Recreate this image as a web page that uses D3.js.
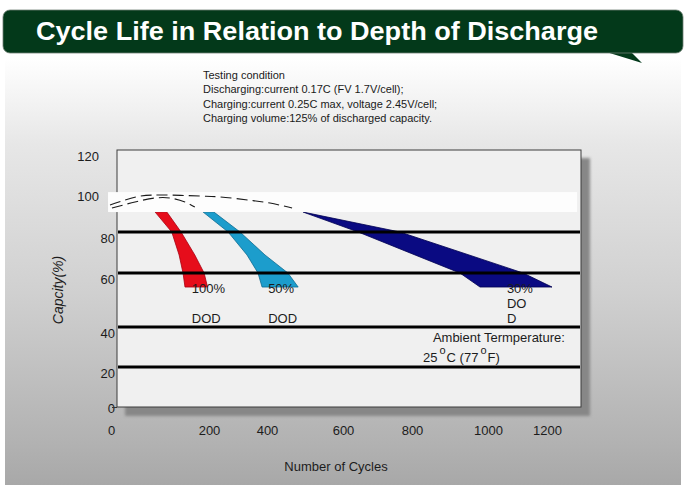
<!DOCTYPE html>
<html><head><meta charset="utf-8">
<script src="https://cdn.jsdelivr.net/npm/d3@7"></script>
<style>
html,body{margin:0;padding:0;background:#fff;}
svg{display:block;font-family:"Liberation Sans",Arial,Helvetica,sans-serif;}
</style>
</head><body>
<svg id="chart" width="686" height="498"></svg>
<script>
// ---------- data ----------
const titleText = "Cycle Life in Relation to Depth of Discharge";
const conditionLines = [
  "Testing condition",
  "Discharging:current 0.17C (FV 1.7V/cell);",
  "Charging:current 0.25C max, voltage 2.45V/cell;",
  "Charging volume:125% of discharged capacity."
];
const xTicks = [0, 200, 400, 600, 800, 1000, 1200];
const yTicks = [0, 20, 40, 60, 80, 100, 120];
const gridValues = [80, 60, 40, 20];
const xTitle = "Number of Cycles";
const yTitle = "Capcity(%)";

// capacity bands [cycles, capacity %] (outline, clockwise)
const dod100 = [[90,89.5],[114,89.5],[143,80],[171,68.8],[190,60],[197,54.8],[151,54.8],[147,60],[139,68.8],[124,80]];
const dod50  = [[188,89.5],[217,89.5],[307,80],[393,68.8],[455,60],[482,54.8],[383,54.8],[369,60],[331,68.8],[266,80]];
const dod30  = [[495,89.5],[765,80],[950,68.8],[1119,60],[1217,54.8],[979,54.8],[926,60],[808,68.8],[644,80]];
const bandColors = ["#e60d1b", "#1c9dcc", "#0a0a82"];
const bandStrokes = ["#a80010", "#0e6c92", "#000050"];

// initial capacity envelope (dashed)
const envelopeUpper = [[-2,92.9],[59,97.1],[104,97.6],[182,97.1],[238,96.7],[337,95.2],[408,93.8],[466,91.4]];
const envelopeLower = [[2,91.4],[49,94.3],[90,96.2],[120,96.2],[151,94.3],[171,91.9]];
const envelopeBand = [[-6, 99], [1302, 89.5]];

// annotation text anchored at [cycles, capacity]
const annotations = [
  ["100%", 165, 54.4], ["DOD", 165, 43.3],
  ["50%", 403, 54.4],  ["DOD", 403, 43.3],
  ["30%", 1064, 54.4], ["DO", 1064, 48.9], ["D", 1064, 43.3],
  ["Ambient Termperature:", 855, 35]
];
const tempLine = { at: [829, 25], parts: ["25", "o", "C (77", "o", "F)"] };

// ---------- drawing ----------
const svg = d3.select("#chart");
const defs = svg.append("defs");
const bg = defs.append("linearGradient").attr("id","bg").attr("x1",0).attr("y1",0).attr("x2",0).attr("y2",1);
[[0,"#ffffff"],[0.2,"#e7e7e7"],[0.55,"#d0d0d0"],[0.9,"#b2b2b2"],[1,"#a8a8a8"]]
  .forEach(s => bg.append("stop").attr("offset", s[0]).attr("stop-color", s[1]));
defs.append("filter").attr("id","blur").append("feGaussianBlur").attr("stdDeviation", 1.5);

svg.append("rect").attr("x",5).attr("y",58).attr("width",676).attr("height",427).attr("fill","url(#bg)");

// title banner
svg.append("path").attr("d","M603,51 L630,51 L642,63 Z").attr("fill","#03391a");
svg.append("rect").attr("x",3).attr("y",10).attr("width",680).attr("height",43).attr("rx",7)
  .attr("fill","#03391a").attr("stroke","#6f7f74").attr("stroke-width",0.8);
svg.append("text").attr("x",36).attr("y",40).attr("fill","#fff")
  .attr("font-size",25).attr("font-weight","bold")
  .attr("textLength",562).attr("lengthAdjust","spacingAndGlyphs").text(titleText);

// testing condition
svg.append("g").selectAll("text").data(conditionLines).join("text")
  .attr("x",203).attr("y",(d,i)=>79 + i*14.3).attr("font-size",11).attr("fill","#1a1a1a").text(d=>d);

// scales
const x = d3.scaleLinear().domain(xTicks).range([111,209,267,343,412,488,547]);
const y = d3.scaleLinear().domain(yTicks).range([407,367,327,273,232,190,150]);
const plotL = 117, plotR = 581, plotT = y(120), plotB = y(0);

// plot frame + shadow
svg.append("rect").attr("x",plotL+8).attr("y",plotT+8).attr("width",plotR-plotL+1).attr("height",plotB-plotT+1)
  .attr("fill","#878787").attr("filter","url(#blur)");
svg.append("rect").attr("x",plotL).attr("y",plotT).attr("width",plotR-plotL).attr("height",plotB-plotT)
  .attr("fill","#f0f0f0").attr("stroke","#3c3c3c").attr("stroke-width",1);

// bands
const line = d3.line().x(d=>x(d[0])).y(d=>y(d[1]));
const closed = d3.line().x(d=>x(d[0])).y(d=>y(d[1])).curve(d3.curveLinearClosed);
svg.append("g").selectAll("path").data([dod100, dod50, dod30]).join("path")
  .attr("d", closed).attr("fill",(d,i)=>bandColors[i]).attr("stroke",(d,i)=>bandStrokes[i]).attr("stroke-width",0.8);

// white envelope band + dashed curves
svg.append("rect").attr("x",x(envelopeBand[0][0])).attr("y",y(envelopeBand[0][1]))
  .attr("width",x(envelopeBand[1][0])-x(envelopeBand[0][0])).attr("height",y(envelopeBand[1][1])-y(envelopeBand[0][1]))
  .attr("fill","#fdfdfd");
svg.append("g").selectAll("path").data([envelopeUpper, envelopeLower]).join("path")
  .attr("d", line.curve(d3.curveCatmullRom)).attr("fill","none").attr("stroke","#1a1a1a")
  .attr("stroke-width",1.1).attr("stroke-dasharray","11,5");

// grid lines
svg.append("g").selectAll("line").data(gridValues).join("line")
  .attr("x1",plotL+1).attr("x2",plotR-1).attr("y1",d=>y(d)).attr("y2",d=>y(d))
  .attr("stroke","#000").attr("stroke-width",3);

// annotations
svg.append("g").selectAll("text").data(annotations).join("text")
  .attr("x",d=>x(d[1])).attr("y",d=>y(d[2])).attr("dy","0.36em")
  .attr("font-size",13).attr("fill","#1c1c1c").text(d=>d[0]);
const tt = svg.append("text").attr("x",x(tempLine.at[0])).attr("y",y(tempLine.at[1])).attr("dy","0.36em")
  .attr("font-size",13).attr("fill","#1c1c1c");
tempLine.parts.forEach((p,i)=>{
  const sup = i % 2 === 1;
  tt.append("tspan").attr("dy", i===0 ? null : (sup ? -8 : 8)).attr("dx", sup ? 2 : (i>0?1:0))
    .attr("font-size", sup ? 11 : null).text(p);
});

// axes
const xAxis = svg.append("g").attr("transform",`translate(0,${plotB})`)
  .call(d3.axisBottom(x).tickValues(xTicks).tickSize(0).tickPadding(19).tickFormat(d3.format("d")));
xAxis.select(".domain").remove();
xAxis.selectAll("text").attr("font-size",13).attr("fill","#1c1c1c")
  .attr("font-family",d=> (d===800||d===400) ? "'Liberation Sans Narrow','Arial Narrow',sans-serif" : null);

const yAxis = svg.append("g").attr("transform",`translate(${plotL},0)`)
  .call(d3.axisLeft(y).tickValues(yTicks).tickSize(0).tickPadding(2).tickFormat(d3.format("d")));
yAxis.select(".domain").remove();
yAxis.selectAll("text").attr("font-size",13).attr("fill","#1c1c1c")
  .attr("x", d => d >= 100 ? -18 : -2)
  .attr("y", d => d === 0 ? 1 : 6);
yAxis.selectAll(".tick").filter(d=>d===0).append("line")
  .attr("x1",-5).attr("x2",0).attr("stroke","#333");

// axis titles
svg.append("text").attr("x",336).attr("y",471).attr("text-anchor","middle")
  .attr("font-size",13).attr("fill","#1c1c1c").text(xTitle);
svg.append("text").attr("transform","translate(63,290) rotate(-90)").attr("text-anchor","middle")
  .attr("font-size",14).attr("font-style","italic").attr("fill","#1c1c1c").text(yTitle);
</script>
</body></html>
